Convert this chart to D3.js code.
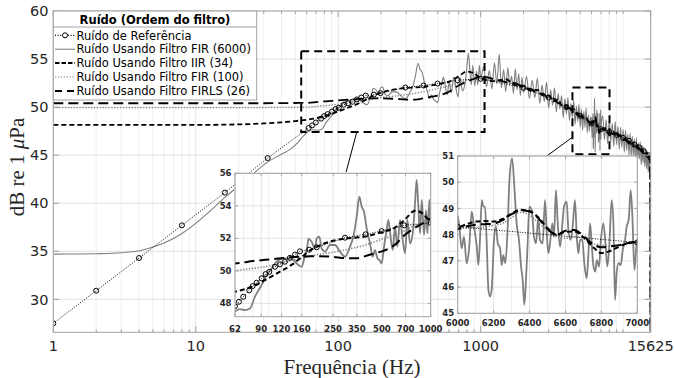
<!DOCTYPE html>
<html>
<head>
<meta charset="utf-8">
<script src="https://cdn.jsdelivr.net/npm/d3@7/dist/d3.min.js"></script>
<style>
html,body{margin:0;padding:0;background:#fff;}
svg{display:block;}
</style>
</head>
<body>
<svg id="chart" width="674" height="378"></svg>
<script>
// ---------------- data ----------------
const xTickValues = [1, 10, 100, 1000, 15625];
const xTickLabels = ["1", "10", "100", "1000", "15625"];
const yTickValues = [30, 35, 40, 45, 50, 55, 60];
const xLabel = "Frequência (Hz)";
const legendTitle = "Ruído (Ordem do filtro)";
const seriesNames = [
  "Ruído de Referência",
  "Ruído Usando Filtro FIR (6000)",
  "Ruído Usando Filtro IIR (34)",
  "Ruído Usando Filtro FIR (100)",
  "Ruído Usando Filtro FIRLS (26)"
];

// reference noise (markers)
const refFreq = [1,2,4,8,16,32,62,65.6,69.7,75.9,79.6,84.3,90.5,95.8,100.9,109.4,117.5,126,135.3,145.3,156,178,198,296,397,498,687,1000,2000,3000,4000,5000,6000,7000,8000,9000,10000,11000,12000,13000,14000,15000,15625];
const refDb   = [27.5,30.9,34.3,37.7,41.1,44.7,47.83,48.1,48.4,48.8,49.06,49.27,49.54,49.8,49.94,50.25,50.4,50.56,50.8,51.0,51.2,51.3,51.45,52.04,52.25,52.45,52.8,52.95,52.0,51.0,50.0,49.1,48.3,47.7,47.4,47.1,46.8,46.5,46.1,45.8,45.4,45.0,44.7];

// FIR (6000) - noisy grey spectrum, [frequency, dB]
const fir6000Low = [[1,34.70],[1.5,34.72],[2,34.75],[3,34.85],[4,35.05],[5,35.45],[6,35.85],[8,36.85],[10,37.9],[12,38.9],[16,40.6],[20,41.8],[25,43.0],[32,44.3],[40,45.1],[46,45.6],[52,46.3],[57,47.0]];
const fir6000Mid = [[62,47.49],[66.5,47.65],[71.4,47.59],[76.7,47.69],[82.3,48.41],[90.5,49.13],[97.2,49.74],[104.3,50.15],[112,50.56],[123.1,50.77],[138.7,50.77],[148.8,50.46],[159.8,50.25],[167.6,50.97],[173.2,51.49],[175.7,51.96],[184.2,51.79],[193.2,51.38],[197.8,52.0],[205.4,52.1],[212.3,51.38],[222.7,51.18],[239.1,51.59],[256.7,51.59],[275.6,51.18],[296,50.87],[317.8,51.49],[333.2,52.1],[349.4,53.33],[362.9,54.56],[375.1,53.95],[387.7,53.64],[402.6,52.61],[422.2,51.69],[438.5,50.87],[453.3,51.28],[468.6,50.77],[482.1,50.67],[498.4,50.46],[515.2,51.49],[535.1,52.51],[547.9,53.13],[561,52.41],[582.7,51.28],[602.4,52.72],[622.7,51.49],[646.7,53.13],[671.7,51.9],[694.3,51.08],[717.8,53.13],[745.5,51.69],[774.3,52.31],[800.5,54.15],[819.7,55.59],[839.3,53.95],[859.5,52.31],[880.1,54.36],[909.8,52.21],[935.9,53.74],[953.8,52.31],[981.3,54.36],[1000,52.92]];
const fir6000High1 = [[1050,54.2],[1100,52.1],[1150,53.8],[1200,51.9],[1250,54.6],[1300,52.4],[1350,55.5],[1400,52.0],[1450,53.9],[1500,51.6],[1550,54.1],[1600,52.3],[1650,53.2],[1700,51.4],[1750,54.0],[1800,51.8],[1850,53.5],[1900,51.2],[1950,53.1],[2000,51.5],
  [2100,53.2],[2200,50.9],[2300,52.8],[2400,51.0],[2500,53.0],[2600,50.4],[2700,52.3],[2800,50.6],[2900,52.6],[3000,49.9],[3100,51.8],[3200,50.2],[3300,52.0],[3400,49.5],[3500,51.4],[3600,49.8],[3700,51.2],[3800,48.9],[3900,50.9],[4000,49.3],[4100,51.0],[4200,48.6],[4300,50.4],[4400,48.9],[4500,50.7],[4600,48.2],[4700,50.1],[4800,48.5],[4900,50.3],[5000,47.9],[5100,49.8],[5200,47.6],[5300,49.6],[5400,47.9],[5500,49.9],[5600,47.3],[5700,49.2],[5800,47.5],[5900,49.0]];
const fir6000Zoom = [[6000,48.69],[6009,48.31],[6022,47.48],[6035,47.92],[6050,46.91],[6063,47.42],[6078,48.88],[6091,48.31],[6106,47.54],[6115,46.84],[6124,47.80],[6134,49.32],[6143,49.07],[6152,49.07],[6161,47.80],[6171,45.89],[6180,45.64],[6189,45.89],[6202,47.80],[6213,48.31],[6223,47.67],[6236,47.48],[6245,46.84],[6254,47.22],[6265,46.91],[6277,48.05],[6288,50.08],[6303,50.91],[6316,49.77],[6328,48.43],[6341,47.80],[6353,46.78],[6362,46.27],[6371,45.32],[6380,46.27],[6388,47.42],[6399,49.07],[6412,48.94],[6425,47.92],[6436,47.67],[6449,48.69],[6458,47.80],[6473,47.67],[6486,49.32],[6496,48.05],[6505,47.29],[6514,47.67],[6527,48.43],[6536,47.92],[6547,49.70],[6557,48.43],[6570,47.54],[6583,48.43],[6592,49.07],[6607,49.26],[6616,48.18],[6629,47.80],[6640,48.31],[6653,49.32],[6663,47.92],[6672,47.29],[6681,47.80],[6694,47.80],[6705,46.91],[6718,46.33],[6728,47.29],[6737,48.43],[6746,47.67],[6755,46.84],[6766,46.59],[6774,47.03],[6787,46.78],[6796,47.67],[6811,48.43],[6824,47.54],[6833,46.78],[6844,47.54],[6857,49.32],[6867,48.43],[6876,45.51],[6885,46.53],[6895,46.91],[6908,46.84],[6919,47.42],[6932,47.80],[6941,48.31],[6952,48.56],[6963,49.70],[6972,48.81],[6984,46.65],[6993,47.42],[7000,47.80]];
const fir6000High2 = [[7200,49.1],[7400,46.6],[7600,48.7],[7800,46.2],[8000,48.6],[8200,46.4],[8400,48.3],[8600,45.9],[8800,48.5],[9000,46.1],[9200,48.0],[9400,45.6],[9600,47.9],[9800,45.8],[10000,47.7],[10200,45.3],[10400,47.6],[10600,45.5],[10800,47.2],[11000,45.0],[11200,47.3],[11400,44.8],[11600,47.0],[11800,44.9],[12000,46.7],[12200,44.5],[12400,46.8],[12600,44.3],[12800,46.3],[13000,44.6],[13200,46.4],[13400,44.0],[13600,46.0],[13800,44.2],[14000,45.9],[14200,43.8],[14400,45.7],[14600,43.6],[14800,45.4],[15000,43.2],[15200,45.0],[15400,42.5],[15600,43.6],[15625,42.0]];

// smooth filters share one frequency grid
const smoothFreq = [1,10,20,30,40,50,62,70,80,90,100,120,140,160,180,200,250,300,350,400,450,500,600,700,800,900,1000,
  1250,1500,1750,2000,2250,2500,2750,3000,3250,3500,3750,4000,4250,4500,4750,5000,5250,5500,5750,
  6000,6050,6100,6150,6200,6250,6300,6350,6400,6450,6500,6550,6600,6650,6700,6750,6800,6850,6900,6950,7000,
  7500,8000,8500,9000,9500,10000,10500,11000,11500,12000,12500,13000,13500,14000,14500,15000,15500,15625];
const iirDb = [48.15,48.15,48.2,48.3,48.42,48.55,48.72,48.85,49.05,49.3,49.55,50.0,50.4,50.85,51.25,51.5,51.85,52.0,52.05,52.12,52.25,52.38,52.65,53.2,53.7,53.5,53.0,
  52.7,52.9,52.3,52.2,51.7,51.8,51.2,51.2,50.6,50.8,50.1,50.2,49.7,49.8,49.2,49.4,48.8,48.9,48.4,
  48.28,48.40,48.50,48.52,48.50,48.60,48.80,48.95,48.90,48.65,48.25,48.00,48.10,48.12,47.90,47.55,47.30,47.38,47.55,47.68,47.72,
  47.8,47.2,47.5,46.9,47.1,46.6,46.8,46.2,46.5,45.9,46.1,45.6,45.7,45.2,45.3,44.9,44.8,0];
const firlsDb = [50.4,50.4,50.4,50.4,50.42,50.43,50.45,50.52,50.6,50.65,50.7,50.78,50.85,50.88,50.9,50.9,50.86,50.78,50.78,50.92,51.08,51.2,51.6,52.25,52.65,52.95,53.2,
  52.9,52.6,52.5,52.0,51.9,51.4,51.4,50.9,50.9,50.4,50.3,49.9,49.9,49.4,49.4,49.0,49.0,48.6,48.5,
  48.22,48.32,48.38,48.40,48.42,48.55,48.78,48.92,48.88,48.62,48.22,47.98,48.15,48.18,47.95,47.65,47.52,47.55,47.60,47.68,47.72,
  47.6,47.5,47.2,47.2,46.8,46.8,46.5,46.4,46.1,46.1,45.8,45.7,45.4,45.4,45.0,45.0,44.7,0];
const fir100Db = [49.95,49.95,49.95,49.96,49.97,49.98,50.0,50.08,50.15,50.22,50.3,50.5,50.65,50.78,50.9,51.0,51.15,51.3,51.45,51.6,51.78,51.95,52.2,52.5,52.8,52.95,53.0,
  52.8,52.6,52.4,52.1,51.8,51.6,51.3,51.0,50.8,50.5,50.2,50.0,49.8,49.5,49.3,49.0,48.8,48.6,48.4,
  48.24,48.25,48.27,48.30,48.35,48.43,48.65,48.85,48.75,48.45,48.15,47.92,47.86,47.92,47.85,47.67,47.60,47.58,47.62,47.66,47.68,
  47.6,47.4,47.3,47.1,46.9,46.7,46.6,46.4,46.2,46.0,45.9,45.7,45.5,45.3,45.1,44.9,44.7,44.6];

// insets
const inset1XTicks = [62, 90, 120, 160, 250, 350, 500, 700, 1000];
const inset1MinorX = [70, 80, 100, 200, 300, 400, 600, 800, 900];
const inset1YTicks = [48, 50, 52, 54, 56];
const inset2XTicks = [6000, 6200, 6400, 6600, 6800, 7000];
const inset2YTicks = [45, 46, 47, 48, 49, 50, 51];
const zoomRegion1 = {freq: [55, 1065], db: [47.4, 55.8]};
const zoomRegion2 = {freq: [4410, 8030], db: [45.1, 52.05]};
const connector1 = {from: [135, 47.4], to: [113.6, 43.23]};
const connector2 = {from: [4410, 46.87], to: [2660, 44.48]};

// ---------------- drawing ----------------
const svg = d3.select("#chart");
const FONT = "'DejaVu Sans', sans-serif";
const SERIF = "'Liberation Serif', 'Times New Roman', serif";
const AX = "#a3a3a3", TXT = "#262626", GRID = "#e2e2e2", GRIDMIN = "#efefef";
const defs = svg.append("defs");

const fir6000 = [].concat(fir6000Low, fir6000Mid, fir6000High1, fir6000Zoom, fir6000High2);
const refData = refFreq.map((f, i) => [f, refDb[i]]);
const iirData = smoothFreq.map((f, i) => [f, iirDb[i]]);
const firlsData = smoothFreq.map((f, i) => [f, firlsDb[i]]);
const fir100Data = smoothFreq.map((f, i) => [f, fir100Db[i]]);

// styles: [main width, inset width]
const styles = [
  {data: refData, stroke: "#000", w: [1, 1], dash: "1,1.6", curve: d3.curveLinear, marker: true},
  {data: fir6000, stroke: "#7f7f7f", w: [1.1, 1.8], dash: null, curve: d3.curveMonotoneX},
  {data: iirData, stroke: "#000", w: [1.8, 2], dash: "5,3", curve: d3.curveMonotoneX},
  {data: fir100Data, stroke: "#808080", w: [1.3, 1.5], dash: "1.3,1.6", curve: d3.curveMonotoneX},
  {data: firlsData, stroke: "#000", w: [1.8, 2], dash: "10,5", curve: d3.curveMonotoneX}
];
const drawOrder = [1, 3, 4, 2, 0];

function makeClip(id, x0, y0, w, h) {
  defs.append("clipPath").attr("id", id).append("rect")
    .attr("x", x0).attr("y", y0).attr("width", w).attr("height", h);
}

function drawSeries(g, xs, ys, k, xFilter) {
  drawOrder.forEach(si => {
    const s = styles[si];
    const line = d3.line().x(d => xs(d[0])).y(d => ys(d[1])).curve(s.curve);
    g.append("path").attr("d", line(s.data)).attr("fill", "none")
      .attr("stroke", s.stroke).attr("stroke-width", s.w[k])
      .attr("stroke-dasharray", s.dash).attr("stroke-linejoin", "round");
    if (s.marker) {
      g.selectAll(null).data(s.data.filter(xFilter)).enter().append("circle")
        .attr("cx", d => xs(d[0])).attr("cy", d => ys(d[1])).attr("r", 2.5)
        .attr("fill", "none").attr("stroke", "#000").attr("stroke-width", 1);
    }
  });
}

// ---- main axes ----
const M = {l: 53.3, r: 650.7, t: 11, b: 332.3};
const x = d3.scaleLog().domain([1, 15625]).range([M.l, M.r]);
const y = d3.scaleLinear().domain([26.57, 60]).range([M.b, M.t]);
const minorX = [];
[1, 10, 100, 1000, 10000].forEach(d => { for (let k = 2; k <= 9; k++) { const f = k * d; if (f < 15625) minorX.push(f); } });
minorX.push(10000);

const gMain = svg.append("g");
gMain.append("rect").attr("x", M.l).attr("y", M.t).attr("width", M.r - M.l).attr("height", M.b - M.t).attr("fill", "#fff");
gMain.selectAll(null).data(minorX).enter().append("line")
  .attr("x1", d => x(d)).attr("x2", d => x(d)).attr("y1", M.t).attr("y2", M.b)
  .attr("stroke", GRIDMIN).attr("stroke-width", 1);
gMain.selectAll(null).data(xTickValues).enter().append("line")
  .attr("x1", d => x(d)).attr("x2", d => x(d)).attr("y1", M.t).attr("y2", M.b)
  .attr("stroke", GRID).attr("stroke-width", 1);
gMain.selectAll(null).data(yTickValues).enter().append("line")
  .attr("x1", M.l).attr("x2", M.r).attr("y1", d => y(d)).attr("y2", d => y(d))
  .attr("stroke", GRID).attr("stroke-width", 1);

makeClip("clipMain", M.l, M.t, M.r - M.l, M.b - M.t);
const gData = gMain.append("g").attr("clip-path", "url(#clipMain)");
drawSeries(gData, x, y, 0, d => true);

// zoom region boxes & connectors
[zoomRegion1, zoomRegion2].forEach(z => {
  gMain.append("rect")
    .attr("x", x(z.freq[0])).attr("y", y(z.db[1]))
    .attr("width", x(z.freq[1]) - x(z.freq[0])).attr("height", y(z.db[0]) - y(z.db[1]))
    .attr("fill", "none").attr("stroke", "#000").attr("stroke-width", 2).attr("stroke-dasharray", "8,5");
});
[connector1, connector2].forEach(c => {
  gMain.append("line").attr("x1", x(c.from[0])).attr("y1", y(c.from[1]))
    .attr("x2", x(c.to[0])).attr("y2", y(c.to[1])).attr("stroke", "#000").attr("stroke-width", 1);
});

// frame and ticks
gMain.append("rect").attr("x", M.l).attr("y", M.t).attr("width", M.r - M.l).attr("height", M.b - M.t)
  .attr("fill", "none").attr("stroke", AX).attr("stroke-width", 1);
const tickG = gMain.append("g").attr("stroke", AX).attr("stroke-width", 1);
minorX.forEach(f => {
  tickG.append("line").attr("x1", x(f)).attr("x2", x(f)).attr("y1", M.b).attr("y2", M.b - 3);
  tickG.append("line").attr("x1", x(f)).attr("x2", x(f)).attr("y1", M.t).attr("y2", M.t + 3);
});
xTickValues.forEach(f => {
  tickG.append("line").attr("x1", x(f)).attr("x2", x(f)).attr("y1", M.b).attr("y2", M.b - 6);
  tickG.append("line").attr("x1", x(f)).attr("x2", x(f)).attr("y1", M.t).attr("y2", M.t + 6);
});
yTickValues.forEach(v => {
  tickG.append("line").attr("x1", M.l).attr("x2", M.l + 6).attr("y1", y(v)).attr("y2", y(v));
  tickG.append("line").attr("x1", M.r).attr("x2", M.r - 6).attr("y1", y(v)).attr("y2", y(v));
});
gMain.selectAll(null).data(xTickValues).enter().append("text")
  .attr("x", d => x(d)).attr("y", 350.5).attr("text-anchor", "middle")
  .attr("font-family", FONT).attr("font-size", 14.5).attr("fill", TXT)
  .text((d, i) => xTickLabels[i]);
gMain.selectAll(null).data(yTickValues).enter().append("text")
  .attr("x", 48.5).attr("y", d => y(d) + 5.2).attr("text-anchor", "end")
  .attr("font-family", FONT).attr("font-size", 14.5).attr("fill", TXT)
  .text(d => d);

// axis titles
svg.append("text").attr("x", 352).attr("y", 373.5).attr("text-anchor", "middle")
  .attr("font-family", SERIF).attr("font-size", 21).attr("fill", TXT).text(xLabel);
const yl = svg.append("text").attr("transform", "translate(24,167) rotate(-90)").attr("text-anchor", "middle")
  .attr("font-family", SERIF).attr("font-size", 21).attr("fill", TXT);
yl.append("tspan").text("dB re 1 ");
yl.append("tspan").attr("font-style", "italic").text("μ");
yl.append("tspan").text("Pa");

// ---- insets ----
function drawInset(id, box, xs, ys, xTicks, xMinor, yTicks, labelBase, xFilter) {
  const g = svg.append("g");
  g.append("rect").attr("x", box.l).attr("y", box.t).attr("width", box.r - box.l).attr("height", box.b - box.t).attr("fill", "#fff");
  g.selectAll(null).data(xMinor).enter().append("line")
    .attr("x1", d => xs(d)).attr("x2", d => xs(d)).attr("y1", box.t).attr("y2", box.b).attr("stroke", GRIDMIN);
  g.selectAll(null).data(xTicks).enter().append("line")
    .attr("x1", d => xs(d)).attr("x2", d => xs(d)).attr("y1", box.t).attr("y2", box.b).attr("stroke", GRID);
  g.selectAll(null).data(yTicks).enter().append("line")
    .attr("x1", box.l).attr("x2", box.r).attr("y1", d => ys(d)).attr("y2", d => ys(d)).attr("stroke", GRID);
  makeClip(id, box.l, box.t, box.r - box.l, box.b - box.t);
  const gd = g.append("g").attr("clip-path", "url(#" + id + ")");
  drawSeries(gd, xs, ys, 1, xFilter);
  g.append("rect").attr("x", box.l).attr("y", box.t).attr("width", box.r - box.l).attr("height", box.b - box.t)
    .attr("fill", "none").attr("stroke", AX);
  const tg = g.append("g").attr("stroke", AX);
  xTicks.forEach(f => {
    tg.append("line").attr("x1", xs(f)).attr("x2", xs(f)).attr("y1", box.b).attr("y2", box.b - 3);
    tg.append("line").attr("x1", xs(f)).attr("x2", xs(f)).attr("y1", box.t).attr("y2", box.t + 3);
  });
  yTicks.forEach(v => {
    tg.append("line").attr("x1", box.l).attr("x2", box.l + 3).attr("y1", ys(v)).attr("y2", ys(v));
    tg.append("line").attr("x1", box.r).attr("x2", box.r - 3).attr("y1", ys(v)).attr("y2", ys(v));
  });
  g.selectAll(null).data(xTicks).enter().append("text")
    .attr("x", d => xs(d)).attr("y", labelBase).attr("text-anchor", "middle")
    .attr("font-family", FONT).attr("font-weight", "bold").attr("font-size", 8.5).attr("fill", TXT).text(d => d);
  g.selectAll(null).data(yTicks).enter().append("text")
    .attr("x", box.l - 3.5).attr("y", d => ys(d) + 3.1).attr("text-anchor", "end")
    .attr("font-family", FONT).attr("font-weight", "bold").attr("font-size", 8.5).attr("fill", TXT).text(d => d);
}
const B1 = {l: 235, r: 430.7, t: 173.3, b: 316.7};
const x1 = d3.scaleLog().domain([62, 1000]).range([B1.l, B1.r]);
const y1 = d3.scaleLinear().domain([47.18, 56]).range([B1.b, B1.t]);
drawInset("clipIn1", B1, x1, y1, inset1XTicks, inset1MinorX, inset1YTicks, 331.5, d => d[0] >= 60 && d[0] <= 1010);

const B2 = {l: 457.7, r: 637.3, t: 156, b: 313.3};
const x2 = d3.scaleLinear().domain([6000, 7000]).range([B2.l, B2.r]);
const y2 = d3.scaleLinear().domain([45, 51]).range([B2.b, B2.t]);
const inset2Minor = d3.range(6100, 7000, 200);
drawInset("clipIn2", B2, x2, y2, inset2XTicks, inset2Minor, inset2YTicks, 326, d => d[0] >= 5990 && d[0] <= 7010);

// ---- legend ----
const LG = {l: 53.3, r: 256.7, t: 11, b: 100};
const lg = svg.append("g");
lg.append("rect").attr("x", LG.l).attr("y", LG.t).attr("width", LG.r - LG.l).attr("height", LG.b - LG.t)
  .attr("fill", "#fff").attr("stroke", AX);
lg.append("line").attr("x1", LG.l).attr("x2", LG.r).attr("y1", 27).attr("y2", 27).attr("stroke", AX);
lg.append("text").attr("x", 155).attr("y", 24).attr("text-anchor", "middle")
  .attr("font-family", FONT).attr("font-weight", "bold").attr("font-size", 11.5).attr("fill", "#000").text(legendTitle);
const legendDash = [ "1,1.6", null, "4.5,2", "1.3,1.6", "7,5" ];
seriesNames.forEach((name, i) => {
  const ry = 35.3 + i * 13.9;
  const s = styles[i];
  lg.append("line").attr("x1", 55).attr("x2", 75).attr("y1", ry).attr("y2", ry)
    .attr("stroke", s.stroke).attr("stroke-width", i === 1 ? 1 : (s.stroke === "#000" && i > 0 ? 2 : 1.2))
    .attr("stroke-dasharray", legendDash[i]);
  if (s.marker) lg.append("circle").attr("cx", 65).attr("cy", ry).attr("r", 2.5)
    .attr("fill", "#fff").attr("stroke", "#000").attr("stroke-width", 1);
  lg.append("text").attr("x", 76.5).attr("y", ry + 4.2)
    .attr("font-family", FONT).attr("font-size", 11.5).attr("fill", "#000").text(name);
});
</script>
</body>
</html>
